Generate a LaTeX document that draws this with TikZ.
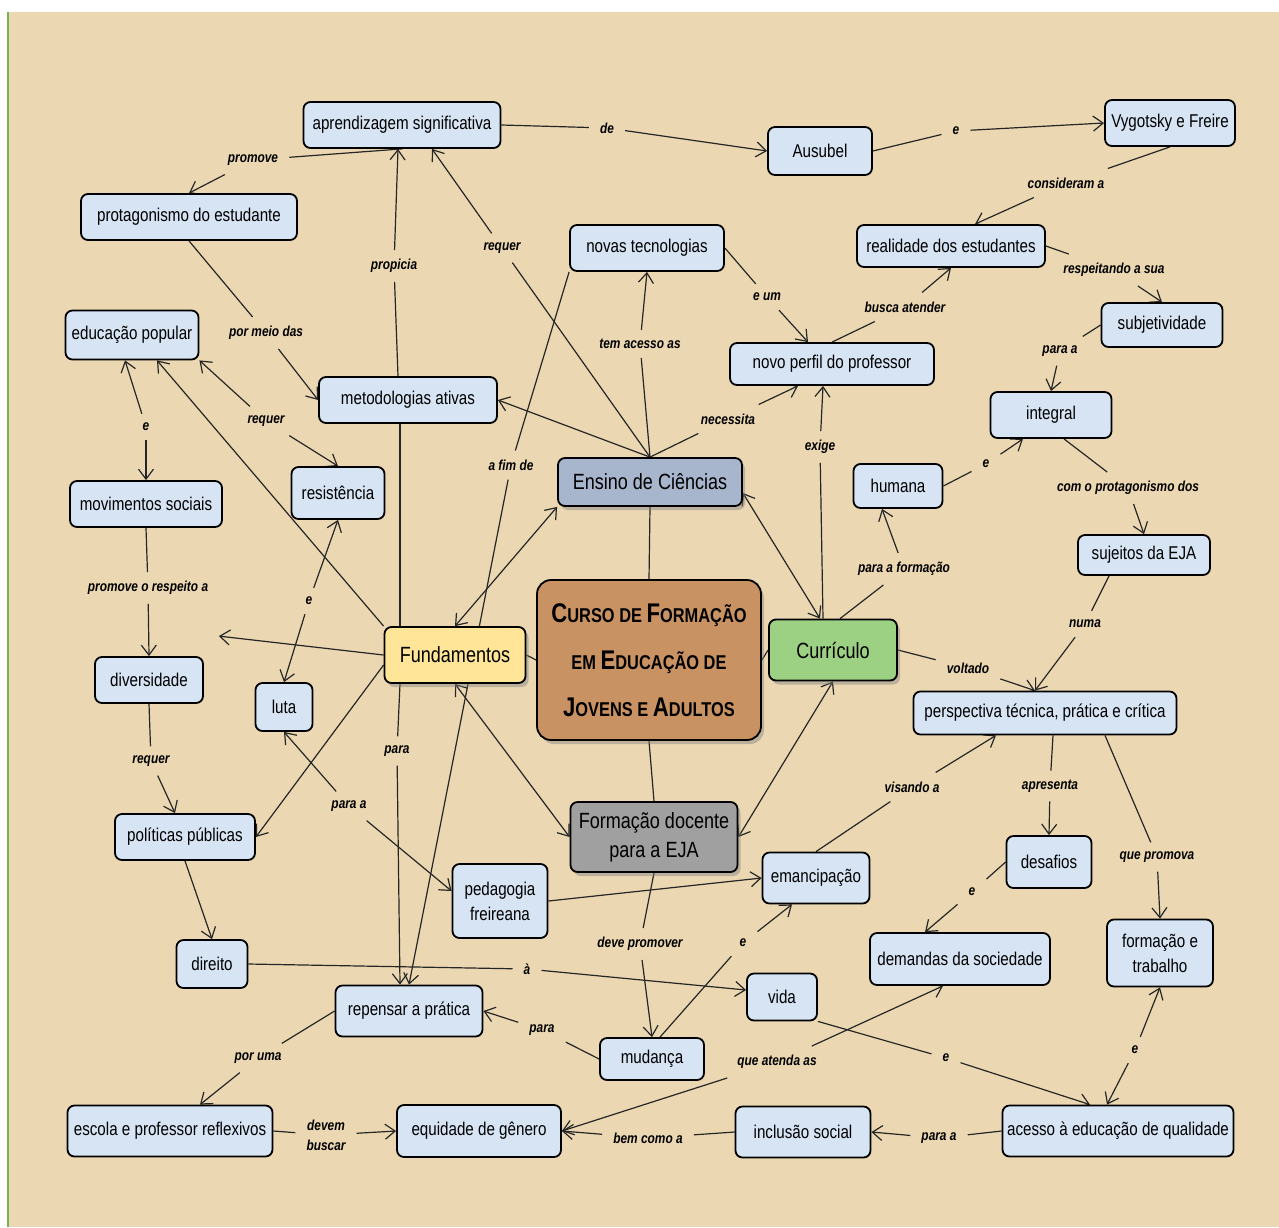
\documentclass[tikz,border=0pt]{standalone}
\usepackage{fontspec}
\setmainfont{Liberation Sans}[FakeStretch=0.82]
\usetikzlibrary{arrows.meta,shadows,backgrounds}

\definecolor{parch}{RGB}{235,216,178}
\definecolor{cbox}{RGB}{214,228,244}
\definecolor{ensbox}{RGB}{168,182,205}
\definecolor{fundbox}{RGB}{255,229,152}
\definecolor{currbox}{RGB}{156,208,130}
\definecolor{docbox}{RGB}{160,160,160}
\definecolor{wood}{RGB}{201,146,98}
\definecolor{rim}{RGB}{118,178,82}

\newcommand{\capsc}[2]{{\fontsize{27}{27}\selectfont #1}#2}

\tikzset{
	concept/.style={draw, line width=1.8pt, rounded corners=7pt, fill=cbox, align=center, inner sep=3pt,
		minimum height=46pt, font=\fontsize{18.5}{25}\selectfont},
	topic/.style={concept, drop shadow={opacity=0.45, shadow xshift=3pt, shadow yshift=-4pt},
		font=\fontsize{22}{29}\selectfont},
	linkword/.style={inner xsep=11pt, inner ysep=9pt, align=center, font=\fontsize{14.5}{20}\selectfont\bfseries\itshape},
	conn/.style={line width=1.2pt, draw=black!85},
	arr/.style={conn, -{Straight Barb[length=10pt,width=15pt]}},
	darr/.style={conn, {Straight Barb[length=10pt,width=15pt]}-{Straight Barb[length=10pt,width=15pt]}}
}

\begin{document}
\begin{tikzpicture}[x=1pt,y=-1pt]
	\useasboundingbox (0,0) rectangle (1279,1227);

	% conceitos
	\node[concept, minimum width=197pt] (asig) at (402,125) {aprendizagem significativa};
	\node[concept, minimum width=104pt, minimum height=48pt] (ausubel) at (820,151) {Ausubel};
	\node[concept, minimum width=130pt] (vygfreire) at (1170,123) {Vygotsky e Freire};
	\node[concept, minimum width=216pt] (protag) at (189,217) {protagonismo do estudante};
	\node[concept, minimum width=154pt] (novtec) at (647,248) {novas tecnologias};
	\node[concept, minimum width=188pt, minimum height=42pt] (realid) at (951,246) {realidade dos estudantes};
	\node[concept, minimum width=121pt, minimum height=44pt] (subjet) at (1162,325) {subjetividade};
	\node[concept, minimum width=133pt, minimum height=49pt] (edpop) at (132,335) {educação popular};
	\node[concept, minimum width=204pt, minimum height=42pt] (novoperfil) at (832,364) {novo perfil do professor};
	\node[concept, minimum width=178pt] (metod) at (408,400) {metodologias ativas};
	\node[concept, minimum width=121pt] (integral) at (1051,415) {integral};
	\node[concept, minimum width=89pt, minimum height=44pt] (humana) at (898,486) {humana};
	\node[concept, minimum width=93pt, minimum height=52pt] (resist) at (338,493) {resistência};
	\node[concept, minimum width=152pt] (movsoc) at (146,504) {movimentos sociais};
	\node[concept, minimum width=132pt, minimum height=40pt] (sujeitos) at (1144,555) {sujeitos da EJA};
	\node[concept, minimum width=108pt] (divers) at (149,680) {diversidade};
	\node[concept, minimum width=57pt, minimum height=48pt] (luta) at (284,707) {luta};
	\node[concept, minimum width=263pt, minimum height=43pt] (perspec) at (1045,713) {perspectiva técnica, prática e crítica};
	\node[concept, minimum width=140pt] (politicas) at (185,837) {políticas públicas};
	\node[concept, minimum width=85pt, minimum height=52pt] (desafios) at (1049,862) {desafios};
	\node[concept, minimum width=107pt, minimum height=51pt] (emancip) at (816,878) {emancipação};
	\node[concept, minimum width=95pt, minimum height=74pt] (pedfreire) at (500,901) {pedagogia\\freireana};
	\node[concept, minimum width=106pt, minimum height=67pt] (formtrab) at (1160,953) {formação e\\trabalho};
	\node[concept, minimum width=180pt, minimum height=52pt] (demandas) at (960,959) {demandas da sociedade};
	\node[concept, minimum width=71pt, minimum height=48pt] (direito) at (212,964) {direito};
	\node[concept, minimum width=70pt, minimum height=47pt] (vida) at (782,997) {vida};
	\node[concept, minimum width=147pt, minimum height=51pt] (repensar) at (409,1011) {repensar a prática};
	\node[concept, minimum width=104pt, minimum height=42pt] (mudanca) at (652,1059) {mudança};
	\node[concept, minimum width=205pt, minimum height=51pt] (escola) at (170,1131) {escola e professor reflexivos};
	\node[concept, minimum width=164pt, minimum height=52pt] (equidade) at (479,1131) {equidade de gênero};
	\node[concept, minimum width=135pt, minimum height=51pt] (inclusao) at (803,1132) {inclusão social};
	\node[concept, minimum width=231pt, minimum height=51pt] (acesso) at (1118,1131) {acesso à educação de qualidade};

	\node[topic, fill=ensbox, minimum width=184pt, minimum height=48pt] (ensino) at (650,482) {Ensino de Ciências};
	\node[topic, fill=fundbox, minimum width=141pt, minimum height=56pt] (fund) at (455,655) {Fundamentos};
	\node[topic, fill=currbox, minimum width=128pt, minimum height=61pt] (curric) at (833,650) {Currículo};
	\node[topic, fill=docbox, minimum width=167pt, minimum height=70pt] (formdoc) at (654,837) {Formação docente\\para a EJA};
	\node[topic, fill=wood, minimum width=224pt, minimum height=160pt, rounded corners=14pt,
		font=\fontsize{20}{47}\selectfont\bfseries] (curso) at (649,660)
		{\capsc{C}{URSO DE }\capsc{F}{ORMAÇÃO}\\EM \capsc{E}{DUCAÇÃO DE}\\\capsc{J}{OVENS E }\capsc{A}{DULTOS}};

	% frases de ligação
	\node[linkword] (lpromove) at (253,160) {promove};
	\node[linkword] (lde) at (607,128) {de};
	\node[linkword] (le1) at (956,131) {e};
	\node[linkword] (lconsid) at (1066,183) {consideram a};
	\node[linkword] (lrequerA) at (502,248) {requer};
	\node[linkword] (lpropicia) at (394,266) {propicia};
	\node[linkword] (lpormeio) at (266,333) {por meio das};
	\node[linkword] (ltemacesso) at (640,344) {tem acesso as};
	\node[linkword] (leum) at (767,297) {e um};
	\node[linkword] (lbusca) at (905,307) {busca atender};
	\node[linkword] (lrespeit) at (1114,270) {respeitando a sua};
	\node[linkword] (lparaaA) at (1060,351) {para a};
	\node[linkword] (lnecess) at (728,419) {necessita};
	\node[linkword] (lexige) at (820,447) {exige};
	\node[linkword] (le2) at (986,464) {e};
	\node[linkword] (lcomprot) at (1128,488) {com o protagonismo dos};
	\node[linkword] (lrequerB) at (266,421) {requer};
	\node[linkword] (le3) at (146,427) {e};
	\node[linkword] (lafim) at (511,465) {a fim de};
	\node[linkword] (le4) at (309,601) {e};
	\node[linkword] (lparaform) at (904,569) {para a formação};
	\node[linkword] (lpromresp) at (148,588) {promove o respeito a};
	\node[linkword] (lvoltado) at (968,668) {voltado};
	\node[linkword] (lnuma) at (1085,624) {numa};
	\node[linkword] (lrequerC) at (151,761) {requer};
	\node[linkword] (lpara) at (397,751) {para};
	\node[linkword] (lparaaB) at (349,806) {para a};
	\node[linkword] (lvisando) at (912,787) {visando a};
	\node[linkword] (lapresenta) at (1050,786) {apresenta};
	\node[linkword] (lquepromova) at (1157,857) {que promova};
	\node[linkword] (le5) at (972,892) {e};
	\node[linkword] (ldeveprom) at (640,944) {deve promover};
	\node[linkword] (le6) at (743,943) {e};
	\node[linkword] (la) at (527,969) {à};
	\node[linkword] (lparaB) at (542,1030) {para};
	\node[linkword] (le7) at (1135,1050) {e};
	\node[linkword] (le8) at (946,1058) {e};
	\node[linkword] (lporuma) at (258,1058) {por uma};
	\node[linkword] (lqueatenda) at (777,1062) {que atenda as};
	\node[linkword] (ldevem) at (326,1135) {devem\\buscar};
	\node[linkword] (lbemcomo) at (648,1138) {bem como a};
	\node[linkword] (lparaaC) at (939,1138) {para a};

	% ligações
	\begin{scope}[on background layer]
	\fill[white] (0,0) rectangle (1279,1227);
	\fill[parch] (9,12) rectangle (1279,1227);
	\draw[rim, line width=2.5pt] (8,12) -- (8,1227);

	\draw[conn] (asig.south) -- (lpromove);
	\draw[arr] (lpromove) -- (protag.north);
	\draw[conn] (asig.east) -- (lde);
	\draw[arr] (lde) -- (ausubel.west);
	\draw[conn] (ausubel.east) -- (le1);
	\draw[arr] (le1) -- (vygfreire.west);
	\draw[conn] (vygfreire.south) -- (lconsid);
	\draw[arr] (lconsid) -- ([xshift=24pt]realid.north);
	\draw[conn] (ensino.north) -- (lrequerA);
	\draw[arr] (lrequerA) -- ([xshift=30pt]asig.south);
	\draw[conn] ([xshift=-10pt]metod.north) -- (lpropicia);
	\draw[arr] (lpropicia) -- ([xshift=-4pt]asig.south);
	\draw[conn] (protag.south) -- (lpormeio);
	\draw[arr] (lpormeio) -- (metod.west);
	\draw[conn] (ensino.north) -- (ltemacesso);
	\draw[arr] (ltemacesso) -- (novtec.south);
	\draw[conn] (novtec.east) -- (leum);
	\draw[arr] (leum) -- ([xshift=-24pt]novoperfil.north);
	\draw[conn] (novoperfil.north) -- (lbusca);
	\draw[arr] (lbusca) -- (realid.south);
	\draw[conn] (realid.east) -- (lrespeit);
	\draw[arr] (lrespeit) -- (subjet.north);
	\draw[conn] (subjet.west) -- (lparaaA);
	\draw[arr] (lparaaA) -- (integral.north);
	\draw[conn] (ensino.north) -- (lnecess);
	\draw[arr] (lnecess) -- ([xshift=-34pt]novoperfil.south);
	\draw[conn] ([xshift=-10pt]curric.north) -- (lexige);
	\draw[arr] (lexige) -- ([xshift=-9pt]novoperfil.south);
	\draw[conn] (humana.east) -- (le2);
	\draw[arr] (le2) -- ([xshift=-28pt]integral.south);
	\draw[conn] ([xshift=13pt]integral.south) -- (lcomprot);
	\draw[arr] (lcomprot) -- (sujeitos.north);
	\draw[arr] (lrequerB) -- (edpop.south east);
	\draw[arr] (lrequerB) -- (resist.north);
	\draw[arr] (le3) -- ([xshift=-7pt]edpop.south);
	\draw[arr] (le3) -- (movsoc.north);
	\draw[conn] (novtec.south west) -- (lafim);
	\draw[arr] (lafim) -- (repensar.north);
	\draw[arr] (le4) -- (resist.south);
	\draw[arr] (le4) -- (luta.north);
	\draw[conn] ([xshift=7pt]curric.north) -- (lparaform);
	\draw[arr] (lparaform) -- ([xshift=-16pt]humana.south);
	\draw[conn] (movsoc.south) -- (lpromresp);
	\draw[arr] (lpromresp) -- (divers.north);
	\draw[conn] (curric.east) -- (lvoltado);
	\draw[arr] (lvoltado) -- ([xshift=-10pt]perspec.north);
	\draw[conn] ([xshift=-35pt]sujeitos.south) -- (lnuma);
	\draw[arr] (lnuma) -- ([xshift=-10pt]perspec.north);
	\draw[conn] (divers.south) -- (lrequerC);
	\draw[arr] (lrequerC) -- ([xshift=-10pt]politicas.north);
	\draw[conn] ([xshift=-55pt]fund.south) -- (lpara);
	\draw[arr] (lpara) -- ([xshift=-9pt]repensar.north);
	\draw[arr] (lparaaB) -- (luta.south);
	\draw[arr] (lparaaB) -- ([yshift=10pt]pedfreire.west);
	\draw[conn] (emancip.north) -- (lvisando);
	\draw[arr] (lvisando) -- ([xshift=-49pt]perspec.south);
	\draw[conn] ([xshift=8pt]perspec.south) -- (lapresenta);
	\draw[arr] (lapresenta) -- (desafios.north);
	\draw[conn] ([xshift=60pt]perspec.south) -- (lquepromova);
	\draw[arr] (lquepromova) -- (formtrab.north);
	\draw[conn] (desafios.west) -- (le5);
	\draw[arr] (le5) -- ([xshift=-35pt]demandas.north);
	\draw[conn] (formdoc.south) -- (ldeveprom);
	\draw[arr] (ldeveprom) -- (mudanca.north);
	\draw[conn] ([xshift=8pt]mudanca.north) -- (le6);
	\draw[arr] (le6) -- ([xshift=-24pt]emancip.south);
	\draw[conn] (direito.east) -- (la);
	\draw[arr] (la) -- ([yshift=7pt]vida.west);
	\draw[conn] (mudanca.west) -- (lparaB);
	\draw[arr] (lparaB) -- (repensar.east);
	\draw[arr] (le7) -- (formtrab.south);
	\draw[arr] (le7) -- ([xshift=-11pt]acesso.north);
	\draw[conn] (vida.south east) -- (le8);
	\draw[arr] (le8) -- ([xshift=-28pt]acesso.north);
	\draw[conn] (repensar.west) -- (lporuma);
	\draw[arr] (lporuma) -- ([xshift=30pt]escola.north);
	\draw[arr] (lqueatenda) -- ([xshift=-17pt]demandas.south);
	\draw[arr] (lqueatenda) -- (equidade.east);
	\draw[conn] (escola.east) -- (ldevem);
	\draw[arr] (ldevem) -- (equidade.west);
	\draw[conn] (inclusao.west) -- (lbemcomo);
	\draw[arr] (lbemcomo) -- (equidade.east);
	\draw[conn] (acesso.west) -- (lparaaC);
	\draw[arr] (lparaaC) -- (inclusao.east);

	\draw[arr] (fund.north west) -- ([xshift=25pt]edpop.south);
	\draw[arr] (fund.west) -- ([xshift=15pt,yshift=20pt]divers.north east);
	\draw[arr] ([yshift=-10pt]fund.west) -- (politicas.east);
	\draw[conn] ([xshift=-8pt]metod.south) -- ([xshift=-8pt]metod.south |- fund.north);
	\draw[darr] (fund.north) -- (ensino.south west);
	\draw[darr] (fund.south) -- (formdoc.west);
	\draw[darr] ([yshift=-11pt]ensino.east) -- ([xshift=-13pt]curric.north);
	\draw[darr] (curric.south) -- (formdoc.east);
	\draw[arr] (ensino.north) -- (metod.east);
	\draw[arr] (pedfreire.east) -- (emancip.west);
	\draw[arr] (politicas.south) -- (direito.north);
	\draw[conn] (ensino.south) -- (curso.north);
	\draw[conn] (fund.east) -- (curso.west);
	\draw[conn] (curso.east) -- (curric.west);
	\draw[conn] (curso.south) -- (formdoc.north);
	\end{scope}
\end{tikzpicture}
\end{document}
